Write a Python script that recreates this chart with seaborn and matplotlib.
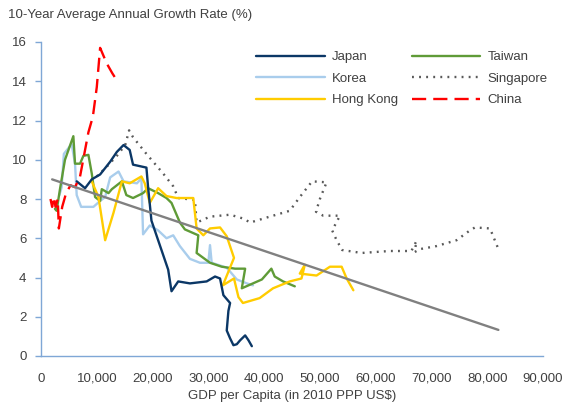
import numpy as np
import pandas as pd
import matplotlib
matplotlib.use("Agg")
import matplotlib.pyplot as plt
import seaborn as sns

# GDP per capita (thousand 2010 PPP US$) and 10-year average growth (%)
japan_gdp = [6.4, 7.9, 9.1, 10.6, 12.4, 13.6, 14.8, 15.9, 16.5, 18.9, 19.2, 19.8, 21.6, 22.8,
             23.4, 24.6, 26.7, 29.7, 31.2, 32.1, 32.7, 33.9, 33.6, 33.3, 33.9, 34.5, 35.1,
             35.7, 36.6, 37.2, 37.8]
japan_growth = [8.9, 8.55, 9.0, 9.25, 9.9, 10.4, 10.75, 10.5, 9.75, 9.6, 8.6, 6.9, 5.4, 4.4,
                3.3, 3.8, 3.7, 3.8, 4.05, 3.95, 3.1, 2.7, 2.3, 1.3, 0.9, 0.55, 0.6,
                0.8, 1.05, 0.8, 0.5]

korea_gdp = [3.3, 3.7, 4.1, 5.5, 6.1, 6.4, 7.2, 9.4, 10.6, 11.5, 12.4, 13.9, 14.8, 17.2, 18.0,
             18.3, 19.5, 21.0, 22.5, 23.7, 24.9, 26.7, 28.5, 30.0, 30.3, 30.6, 33.3, 35.1,
             36.9, 38.0]
korea_growth = [8.2, 8.6, 10.3, 10.8, 9.8, 8.2, 7.6, 7.6, 7.9, 8.1, 9.1, 9.4, 8.9, 8.8, 9.05,
                6.2, 6.65, 6.4, 6.0, 6.15, 5.6, 4.95, 4.75, 4.75, 5.65, 4.75, 4.5, 3.9,
                3.7, 3.6]

hk_gdp = [9.1, 10.3, 11.5, 13.0, 14.5, 15.9, 18.0, 18.6, 19.5, 21.0, 22.5, 24.3, 27.3, 27.9,
          29.1, 30.3, 32.1, 33.3, 34.6, 32.6, 34.6, 35.4, 36.2, 39.2, 41.6, 44.6, 46.7, 47.3,
          46.4, 49.4, 51.8, 53.9, 54.8, 56.0]
hk_growth = [8.9, 8.1, 5.9, 7.3, 8.9, 8.8, 9.15, 8.8, 7.8, 8.55, 8.15, 8.05, 8.05, 6.5,
             6.15, 6.5, 6.55, 6.1, 5.0, 3.6, 3.95, 3.0, 2.7, 2.95, 3.45, 3.8, 3.95, 4.65,
             4.2, 4.1, 4.55, 4.55, 3.95, 3.35]

taiwan_gdp = [2.5, 2.8, 3.4, 4.3, 5.8, 6.1, 7.0, 7.6, 8.5, 9.1, 9.7, 10.6, 10.9, 12.1, 12.7,
              14.5, 15.3, 16.5, 18.3, 19.2, 21.0, 22.5, 23.4, 24.9, 25.8, 28.2, 27.9, 30.3,
              32.4, 34.8, 36.6, 36.0, 39.6, 41.3, 41.9, 43.4, 45.5]
taiwan_growth = [7.5, 7.4, 8.5, 10.0, 11.2, 9.8, 9.8, 10.2, 10.25, 9.3, 8.1, 7.9, 8.5, 8.3, 8.5,
                 8.9, 8.2, 8.05, 8.3, 8.55, 8.3, 8.05, 7.8, 6.8, 6.45, 6.15, 5.25, 4.75,
                 4.55, 4.45, 4.45, 3.45, 3.9, 4.45, 4.05, 3.8, 3.55]

sing_gdp = [10.0, 11.8, 13.6, 15.1, 15.8, 16.5, 18.9, 21.9, 23.7, 24.6, 27.6, 27.9, 30.3, 33.9,
            36.3, 37.5, 40.4, 44.6, 46.4, 48.6, 51.2, 50.0, 49.3, 50.6, 53.6, 52.2, 53.0, 54.0,
            57.5, 62.5, 66.4, 67.3, 67.0, 68.0, 70.9, 74.5, 76.9, 77.8, 80.5, 82.0]
sing_growth = [9.15, 9.65, 10.2, 10.75, 11.5, 11.15, 10.3, 9.3, 8.65, 8.05, 7.95, 6.8, 7.1, 7.2,
               7.0, 6.8, 7.05, 7.4, 8.1, 8.9, 8.85, 8.0, 7.35, 7.15, 7.15, 6.4, 5.9, 5.4,
               5.25, 5.35, 5.35, 5.85, 5.3, 5.45, 5.6, 5.9, 6.4, 6.55, 6.5, 5.45]

china_gdp = [1.7, 2.0, 2.3, 2.6, 3.0, 3.2, 3.8, 4.5, 5.3, 6.1, 7.0, 8.5, 9.3, 10.0, 10.6,
             11.8, 12.8, 13.7]
china_growth = [8.0, 7.6, 8.1, 7.6, 8.0, 6.5, 7.6, 8.3, 8.7, 8.6, 9.15, 11.4, 12.2, 13.7, 15.7,
                14.9, 14.4, 14.0]

trend_gdp = [2.0, 82.0]
trend_growth = [9.0, 1.33]

series = [
    ("Singapore", sing_gdp, sing_growth, "#595959", (0, (0.8, 2.2))),
    ("Korea", korea_gdp, korea_growth, "#a9cdec", "-"),
    ("Taiwan", taiwan_gdp, taiwan_growth, "#5f9b37", "-"),
    ("Hong Kong", hk_gdp, hk_growth, "#ffcc00", "-"),
    ("Japan", japan_gdp, japan_growth, "#0b3766", "-"),
    ("China", china_gdp, china_growth, "#ff0000", (0, (6, 3))),
]
legend_order = ["Japan", "Korea", "Hong Kong", "Taiwan", "Singapore", "China"]

sns.set_style("white")
plt.rcParams["font.family"] = ["Liberation Sans", "DejaVu Sans"]
text_color = "#404040"
axis_color = "#7fa7d6"
fs = 9.5

fig = plt.figure(figsize=(5.63, 4.09), dpi=100)
ax = fig.add_axes([41 / 563, 1 - 356 / 409, 502 / 563, 314 / 409])

handles = {}
for name, gdp, growth, color, ls in series:
    df = pd.DataFrame({"gdp": np.array(gdp) * 1000, "growth": growth})
    sns.lineplot(data=df, x="gdp", y="growth", sort=False, estimator=None,
                 color=color, linewidth=1.7, ax=ax)
    line = ax.get_lines()[-1]
    line.set_linestyle(ls)
    handles[name] = line

trend = pd.DataFrame({"gdp": np.array(trend_gdp) * 1000, "growth": trend_growth})
sns.lineplot(data=trend, x="gdp", y="growth", sort=False, estimator=None,
             color="#808080", linewidth=1.7, ax=ax)

ax.set_xlim(0, 90000)
ax.set_ylim(0, 16)
ax.set_xticks(range(0, 90001, 10000))
ax.set_xticklabels([f"{v:,}" for v in range(0, 90001, 10000)])
ax.set_yticks(range(0, 17, 2))

for side in ["top", "right"]:
    ax.spines[side].set_visible(False)
for side in ["left", "bottom"]:
    ax.spines[side].set_color(axis_color)
    ax.spines[side].set_linewidth(1.0)

ax.tick_params(axis="y", left=True, length=4.5, width=1.0, color=axis_color,
               labelsize=fs, labelcolor=text_color, pad=6)
ax.tick_params(axis="x", bottom=False, length=0, labelsize=fs,
               labelcolor=text_color, pad=12)

ax.set_xlabel("GDP per Capita (in 2010 PPP US$)", fontsize=fs, color=text_color, labelpad=4)
ax.set_ylabel("")
fig.text(8 / 563, 1 - 15 / 409, "10-Year Average Annual Growth Rate (%)",
         fontsize=fs, color=text_color, va="center", ha="left")

ax.legend([handles[n] for n in legend_order], legend_order, ncol=2, frameon=False,
          loc="upper left", bbox_to_anchor=(256 / 563, 1 - 51 / 409),
          bbox_transform=fig.transFigure, borderpad=0, borderaxespad=0,
          handlelength=5.2, handletextpad=0.53, columnspacing=1.06, labelspacing=0.7,
          fontsize=fs, labelcolor=text_color)

fig.savefig("out.png", dpi=100)
